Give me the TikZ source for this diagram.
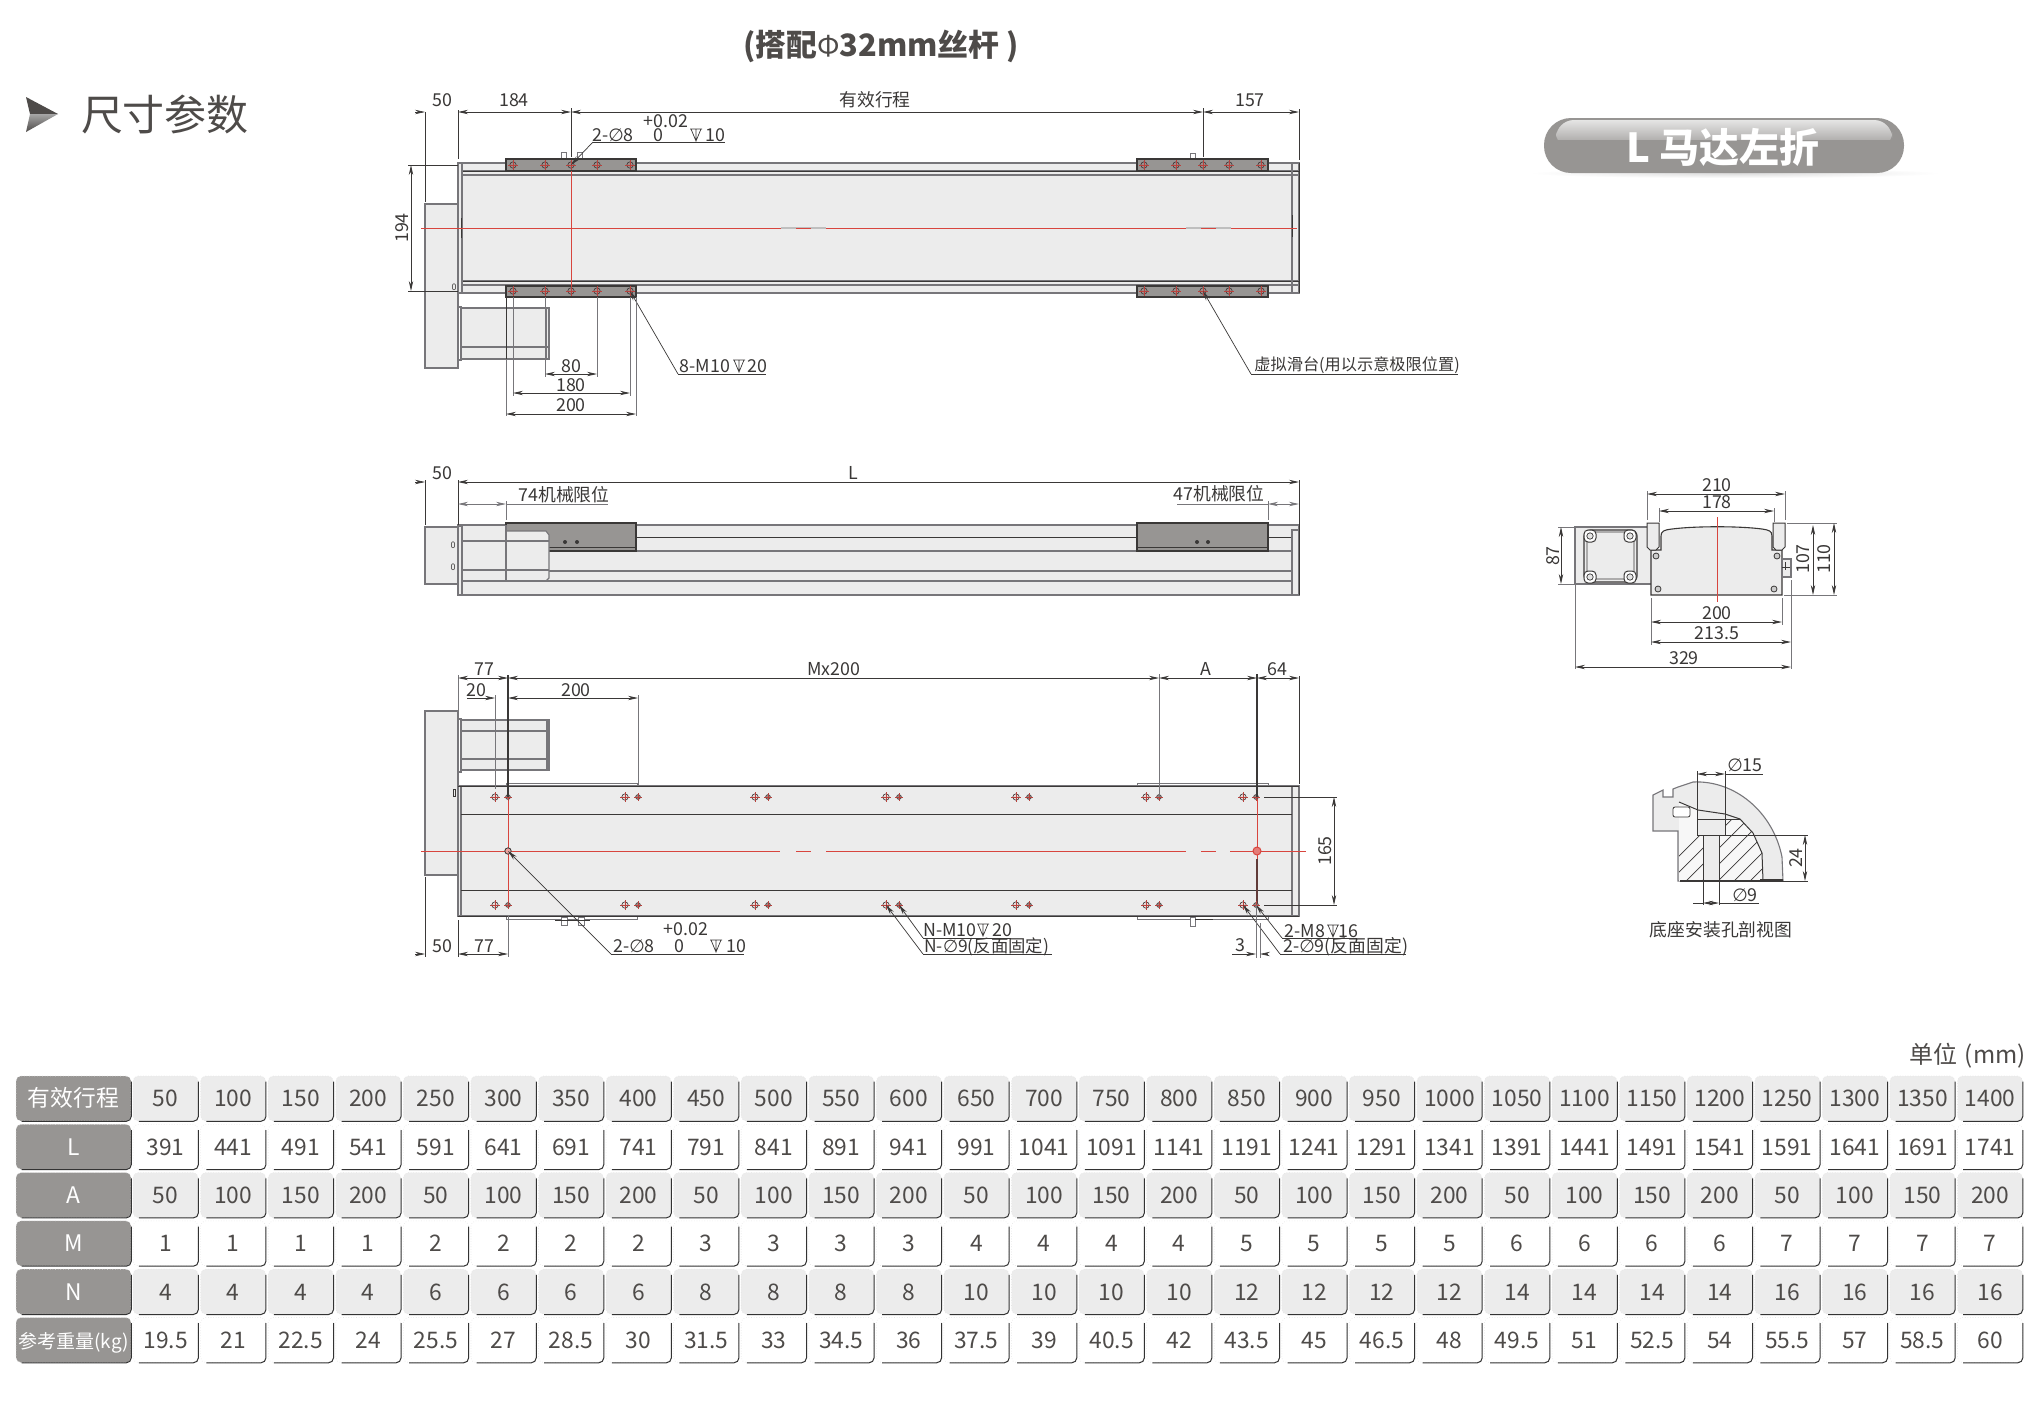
\documentclass[tikz,border=0pt]{standalone}
\usepackage{fontspec}
\usetikzlibrary{arrows.meta,calc}
\setmainfont{Noto Sans CJK SC}
\newfontfamily\dvfont{DejaVu Sans}
\newcommand{\phisym}{{\dvfont ∅}}
\definecolor{ink}{HTML}{3A3837}
\definecolor{txt}{HTML}{4E4B49}
\definecolor{edge}{HTML}{77767A}
\definecolor{rail}{HTML}{ECECEC}
\definecolor{slide}{HTML}{979593}
\definecolor{redl}{HTML}{D8453E}
\tikzset{
 dt/.style={font=\fontsize{8.9pt}{9.5pt}\selectfont,text=ink,inner sep=0pt},
 dtr/.style={dt,rotate=90},
 ext/.style={draw=ink,line width=.35pt},
 extg/.style={draw=edge,line width=.4pt},
 darr/.style={draw=ink,line width=.4pt,{Stealth[length=5pt,width=2.2pt]}-{Stealth[length=5pt,width=2.2pt]}},
 larr/.style={draw=ink,line width=.35pt,{Stealth[length=5pt,width=2.2pt]}-},
 outl/.style={draw=edge,line width=.55pt},
 outd/.style={draw=ink,line width=.5pt},
 railf/.style={fill=rail,draw=edge,line width=.55pt},
 slidef/.style={fill=slide,draw=ink,line width=.6pt},
 redc/.style={draw=redl,line width=.45pt},
 cell/.style={rectangle,rounded corners=2.5pt,minimum width=32.5pt,minimum height=22.5pt,inner sep=0pt,draw=black!10,line width=.3pt,densely dotted,text=txt,text height=8.4pt,text depth=0pt,font=\fontsize{11.4pt}{12pt}\selectfont},
 hcell/.style={cell,fill=slide,text=white,minimum width=57.5pt},
 cedge/.style={draw=black!80,line width=.5pt,rounded corners=2.5pt},
}
% hole marks
\newcommand{\holeB}[2]{\draw[draw=ink,line width=.3pt,fill=redl!12!#1] (#2) circle (1.6pt);\draw[draw=redl!80!ink,line width=.25pt] ($(#2)+(-5,0)$)--($(#2)+(5,0)$) ($(#2)+(0,-5)$)--($(#2)+(0,5)$);}
\newcommand{\holeS}[2]{\draw[draw=ink,line width=.3pt,fill=redl!12!#1] (#2) circle (1.2pt);\draw[draw=redl!80!ink,line width=.25pt] ($(#2)+(-4,0)$)--($(#2)+(4,0)$) ($(#2)+(0,-4)$)--($(#2)+(0,4)$);}
\newcommand{\depsym}[2]{\draw[draw=ink,line width=.35pt] (#1-6,#2-6)--(#1+6,#2-6) (#1-5,#2-6)--(#1,#2+6)--(#1+5,#2-6) (#1,#2-6)--(#1,#2+6);}
\newcommand{\tabrow}[3]{%
 \pgfmathsetmacro\yy{1098.5+48.3*(#1-1)}
 \foreach \v [count=\i from 0] in {#3}{
  \pgfmathsetmacro\xx{165.6+67.57*\i}
  \node[cell,fill=#2] (c#1-\i) at (\xx,\yy) {\v};
  \draw[cedge] ($(c#1-\i.north east)+(0,6)$)--(c#1-\i.south east)--($(c#1-\i.south west)+(6,0)$);
 }}
\newcommand{\tabhead}[3][\fontsize{11.4pt}{12pt}\selectfont]{%
 \pgfmathsetmacro\yy{1098.5+48.3*(#2-1)}
 \node[hcell,font=#1] (h#2) at (73.5,\yy) {#3};
 \draw[cedge] ($(h#2.north east)+(0,6)$)--(h#2.south east)--($(h#2.south west)+(6,0)$);}
\begin{document}
\begin{tikzpicture}[x=.5pt,y=-.5pt]
\useasboundingbox (0,0) rectangle (2042,1409);
\fill[white] (0,0) rectangle (2042,1409);
% ---------- headings
\node[font=\bfseries\fontsize{15.4pt}{17pt}\selectfont,text=txt,inner sep=0pt] (title) at (881,46) {(搭配{\mdseries\fontsize{14pt}{15pt}\selectfont Φ}32mm丝杆 )};
\fill[txt] (26,97)--(58,114)--(30,114)--cycle;
\shade[top color=black!35,bottom color=txt] (30,114)--(58,114)--(26,132)--cycle;
\node[font=\fontsize{21pt}{23pt}\selectfont,text=txt,inner sep=0pt] (sect) at (165,115) {尺寸参数};
% pill
\shade[inner color=black!14,outer color=white] (1530,168) rectangle (1940,178);
\fill[slide,rounded corners=13.5pt] (1544,118) rectangle (1904,173);
\shade[top color=white!75!slide,bottom color=slide,rounded corners=9pt] (1556,120) rectangle (1892,150);
\fill[slide] (1556,140) rectangle (1892,151);
\node[font=\bfseries\fontsize{20pt}{22pt}\selectfont,text=white,inner sep=0pt] (pill) at (1723,147) {L 马达左折};
% ---------- VIEW 1 (top)
\draw[railf] (425,204) rectangle (458,368);
\draw[railf] (458,163) rectangle (1299,293);
\draw[outl] (458,171)--(1299,171) (458,175)--(1299,175) (458,281)--(1299,281) (458,285)--(1299,285);
\draw[outd] (458,171)--(1299,171) (458,281)--(1299,281);
\draw[outl,fill=rail] (458,163) rectangle (462,293);
\draw[outl] (1292,163)--(1292,293);
\draw[outd] (1299,163)--(1299,293) (1292,215)--(1292,237) (461,218)--(461,238);
\draw[outl] (458,307) rectangle (461,360);
\draw[railf] (461,308) rectangle (549,359);
\draw[outl] (461,347)--(549,347) (546,308)--(546,359);
\draw[outd] (506,297)--(506,359);
\node[font=\fontsize{4.5pt}{5pt}\selectfont,text=ink,inner sep=0pt] (z1) at (454,287) {0};
% red line
\draw[draw=black!25,line width=.6pt] (781,228)--(826,228) (1186,228)--(1231,228);
\draw[redc] (421,228)--(781,228) (796,228)--(811,228) (826,228)--(1186,228) (1201,228)--(1216,228) (1231,228)--(1297,228);
\draw[outl,line width=.4pt,fill=white] (561,152) rectangle (566,159) (577,152) rectangle (582,159) (1190,153) rectangle (1195,159);
\draw[outl,line width=.4pt] (1195,158)--(1213,158);
\draw[slidef] (506,159) rectangle (636,171);
\draw[slidef] (506,286) rectangle (636,297);
\draw[slidef] (1137,159) rectangle (1268,171);
\draw[slidef] (1137,286) rectangle (1268,297);
\draw[redc] (571,171)--(571,291);
\foreach \hx in {513,545,571,597,630,1144,1176,1203,1229,1261}{
  \coordinate (t\hx) at (\hx,165); \coordinate (b\hx) at (\hx,291);
  \holeB{slide}{t\hx}\holeB{slide}{b\hx}}
% view1 dims
\draw[ext] (425,112)--(425,202) (458,110)--(458,159) (571,108)--(571,157) (1203,108)--(1203,157) (1299,109)--(1299,160);
\draw[larr] (425,112)--(415,112);
\draw[darr] (458,112)--(571,112);
\draw[darr] (571,112)--(1203,112);
\draw[darr] (1203,112)--(1299,112);
\node[dt] (d50a) at (442,100) {50};
\node[dt] (d184) at (514,100) {184};
\node[dt] (dstr) at (875,100) {有效行程};
\node[dt] (d157) at (1250,100) {157};
\draw[ext] (408,165)--(458,165) (408,291)--(458,291);
\draw[darr] (411,165)--(411,291);
\node[dtr] (d194) at (402,228) {194};
\coordinate (la) at (593,142); \coordinate (lb) at (725,142);
\draw[larr] (t571)--(la); \draw[ext] (la)--(lb);
\node[dt] (ta1) at (613,135) {2-\phisym 8};
\node[dt] (ta2) at (666,121) {+0.02};
\node[dt] (ta3) at (658,135) {0};
\depsym{696}{135}
\node[dt] (ta4) at (715,135) {10};
\coordinate (lc) at (678,374); \coordinate (ld) at (766,374);
\draw[larr] (b630)--(lc); \draw[ext] (lc)--(ld);
\node[dt] (tb1) at (705,366) {8-M10};
\depsym{739}{366}
\node[dt] (tb2) at (757,366) {20};
\draw[extg] (545,297)--(545,377) (597,297)--(597,377) (513,297)--(513,396) (630,297)--(630,396) (506,359)--(506,416) (636,297)--(636,416);
\draw[darr] (545,374)--(597,374);
\draw[darr] (513,393)--(630,393);
\draw[darr] (506,414)--(636,414);
\node[dt] (d80) at (571,366) {80};
\node[dt] (d180) at (571,385) {180};
\node[dt] (d200) at (571,405) {200};
\coordinate (le) at (1251,374); \coordinate (lf) at (1458,374);
\draw[larr] (b1203)--(le); \draw[ext] (le)--(lf);
\node[dt,anchor=west,font=\fontsize{8.1pt}{9pt}\selectfont] (tc) at (1254,365) {虚拟滑台(用以示意极限位置)};
% ---------- VIEW 2 (side)
\draw[railf] (425,527) rectangle (458,584);
\draw[railf] (458,525) rectangle (1299,595);
\draw[outd] (636,537)--(1292,537);
\draw[outl] (462,551)--(1292,551) (462,571)--(1292,571);
\draw[outl] (462,581)--(1292,581);
\draw[slidef] (506,523) rectangle (636,551);
\draw[slidef] (1137,523) rectangle (1268,551);
\draw[outd] (506,547)--(636,547) (1137,547)--(1268,547);
\fill[ink] (565,542) circle (1pt) (577,542) circle (1pt) (1197,542) circle (1pt) (1208,542) circle (1pt);
\draw[railf] (506,531)--(546,531)--(549,535)--(549,578)--(546,581)--(506,581);
\fill[rail] (463,526) rectangle (505.5,580.5);
\draw[outl] (506,525)--(506,581) (462,541)--(549,541) (462,570)--(549,570) (462,581)--(549,581);
\draw[outl,fill=rail] (458,526) rectangle (462,595);
\draw[outl,fill=rail] (1292,530)--(1299,530)--(1299,595)--(1292,595)--cycle;
\draw[outd] (1299,525)--(1299,595);
\node[font=\fontsize{4.5pt}{5pt}\selectfont,text=ink,inner sep=0pt] (z2) at (453,545) {0};
\node[font=\fontsize{4.5pt}{5pt}\selectfont,text=ink,inner sep=0pt] (z3) at (453,567) {0};
\draw[ext] (425,480)--(425,525) (458,480)--(458,525) (1299,480)--(1299,530);
\draw[larr] (425,482)--(415,482);
\draw[darr] (458,482)--(1299,482);
\node[dt] (d50b) at (442,473) {50};
\node[dt] (dL) at (853,473) {L};
\draw[extg] (506,501)--(506,520) (1268,501)--(1268,520);
\draw[darr,draw=edge] (458,504)--(506,504); \draw[extg] (506,504)--(608,504);
\draw[darr,draw=edge] (1268,504)--(1299,504); \draw[extg] (1177,504)--(1268,504);
\node[dt] (d74) at (564,495) {74机械限位};
\node[dt] (d47) at (1219,494) {47机械限位};
% ---------- VIEW 3 (bottom)
\draw[railf] (425,711) rectangle (458,875);
\draw[outl] (458,719) rectangle (461,772);
\draw[railf] (461,720) rectangle (549,770);
\draw[outl] (461,731)--(549,731) (461,759)--(549,759) (547,720)--(547,770);
\draw[outl,line width=.4pt] (506,783) rectangle (637,786) (1137,783) rectangle (1268,786);
\draw[outl,line width=.4pt] (506,916) rectangle (637,919) (1137,916) rectangle (1268,919);
\draw[outl,line width=.4pt,fill=white] (561,917) rectangle (567,925) (578,917) rectangle (584,925) (1190,917) rectangle (1195,926);
\draw[outd] (555,920)--(590,920) (1195,919)--(1213,919);
\draw[railf] (458,786) rectangle (1299,916);
\draw[outl,fill=rail] (458,786) rectangle (461,916);
\draw[outl] (1292,786)--(1292,916);
\draw[outd] (461,814)--(1292,814) (461,890)--(1292,890);
\draw[outd] (458,916)--(1299,916) (458,786)--(1299,786);
\draw[outd,line width=.4pt] (453,789) rectangle (455,796);
\draw[redc] (421,851)--(780,851) (796,851)--(811,851) (826,851)--(1186,851) (1201,851)--(1216,851) (1230,851)--(1306,851);
\draw[redc] (508,797)--(508,905) (1257,797)--(1257,859);
\draw[draw=ink!75!redl,line width=1pt] (1257,859)--(1257,905);
\foreach \px in {495,625,755,886,1016,1146,1243}{
  \pgfmathtruncatemacro\sx{\px+13}
  \coordinate (bt\px) at (\px,797); \coordinate (bb\px) at (\px,905);
  \coordinate (st\sx) at (\sx,797); \coordinate (sb\sx) at (\sx,905);
  \holeB{rail}{bt\px}\holeB{rail}{bb\px}\holeS{slide}{st\sx}\holeS{slide}{sb\sx}}
\coordinate (cc1) at (508,851); \coordinate (cc2) at (1257,851);
\draw[draw=ink,line width=.4pt,fill=redl!50] (cc1) circle (1.6pt);
\draw[draw=redl,line width=.5pt,fill=redl!70] (cc2) circle (2pt);
% dims top
\draw[ext] (425,877)--(425,957) (458,920)--(458,957) (1299,676)--(1299,784);
\draw[extg] (458,675)--(458,710) (495,695)--(495,789) (638,695)--(638,786) (1159,674)--(1159,797) (508,916)--(508,957);
\draw[draw=ink,line width=.6pt] (508,675)--(508,797) (1257,674)--(1257,797);
\draw[darr] (458,678)--(508,678);
\draw[darr] (508,678)--(1159,678);
\draw[darr] (1159,678)--(1257,678);
\draw[darr] (1257,678)--(1299,678);
\node[dt] (d77a) at (484,669) {77};
\node[dt] (dMx) at (834,669) {Mx200};
\node[dt] (dA) at (1206,669) {A};
\node[dt] (d64) at (1277,669) {64};
\draw[larr] (495,698)--(467,698);
\draw[darr] (508,698)--(638,698);
\node[dt] (d20) at (476,690) {20};
\node[dt] (d200b) at (576,690) {200};
% dims bottom
\draw[larr] (425,954)--(415,954);
\draw[darr] (458,954)--(508,954);
\node[dt] (d50c) at (442,946) {50};
\node[dt] (d77b) at (484,946) {77};
\coordinate (ma) at (611,954); \coordinate (mb) at (744,954);
\draw[larr] (cc1)--(ma); \draw[ext] (ma)--(mb);
\node[dt] (ma1) at (634,946) {2-\phisym 8};
\node[dt] (ma2) at (686,929) {+0.02};
\node[dt] (ma3) at (679,946) {0};
\depsym{716}{946}
\node[dt] (ma4) at (736,946) {10};
% N leaders
\coordinate (na) at (923,938); \coordinate (nb) at (1011,938);
\coordinate (nc) at (923,954); \coordinate (nd) at (1052,954);
\draw[larr] (sb899)--(na); \draw[ext] (na)--(nb);
\draw[larr] (bb886)--(nc); \draw[ext] (nc)--(nd);
\node[dt] (n1) at (950,930) {N-M10};
\depsym{983}{930}
\node[dt] (n2) at (1002,930) {20};
\node[dt,anchor=west,font=\fontsize{8.7pt}{9pt}\selectfont] (n3) at (924,947) {N-\phisym 9(反面固定)};
% right side of view3
\coordinate (pa) at (1282,938); \coordinate (pb) at (1357,938);
\coordinate (pc) at (1280,954); \coordinate (pd) at (1406,954);
\draw[larr] (sb1256)--(pa); \draw[ext] (pa)--(pb);
\draw[larr] (bb1243)--(pc); \draw[ext] (pc)--(pd);
\node[dt] (p1) at (1305,931) {2-M8};
\depsym{1333}{931}
\node[dt] (p2) at (1348,931) {16};
\node[dt,anchor=west] (p3) at (1283,947) {2-\phisym 9(反面固定)};
\draw[extg] (1256,905)--(1256,958) (1260,923)--(1260,958);
\draw[larr] (1256,954)--(1232,954);
\draw[larr] (1260,954)--(1268,954);
\node[dt] (d3) at (1240,945) {3};
\draw[ext] (1264,797)--(1337,797) (1264,905)--(1337,905);
\draw[darr] (1334,797)--(1334,905);
\node[dtr] (d165) at (1325,851) {165};
% ---------- END VIEW
\draw[railf] (1575,527) rectangle (1652,584);
\draw[draw=ink,line width=.6pt,fill=rail,rounded corners=3pt] (1584,530) rectangle (1637,582);
\draw[draw=ink,line width=.45pt,fill=rail,rounded corners=1pt] (1587,532) rectangle (1634,579);
\foreach \cx/\cy [count=\k] in {1590/536,1630/536,1590/577,1630/577}{
  \coordinate (mc\k) at (\cx,\cy);
  \draw[draw=ink,line width=.5pt,fill=white,rounded corners=2pt] ($(mc\k)+(-6,-6)$) rectangle ($(mc\k)+(6,6)$);
  \draw[draw=ink,line width=.35pt,fill=black!10] (mc\k) circle (1.6pt);}
\draw[railf,draw=ink] (1651,550)--(1651,595)--(1782,595)--(1782,550)--(1772,550)--(1772,536) .. controls (1772,531) and (1769,530) .. (1762,529) .. controls (1740,526) and (1695,526) .. (1672,529) .. controls (1664,530) and (1661,531) .. (1661,536)--(1661,550)--cycle;
\draw[draw=ink,line width=.5pt,fill=rail] (1647,523)--(1659,523)--(1659,547)--(1656,550)--(1650,550)--(1647,547)--cycle;
\draw[draw=ink,line width=.5pt,fill=rail] (1773,523)--(1785,523)--(1785,547)--(1782,550)--(1776,550)--(1773,547)--cycle;
\draw[outl,fill=rail] (1782,559) rectangle (1791,577);
\draw[outd,line width=.4pt] (1785,562)--(1785,570) (1782,567)--(1790,567);
\foreach \cx/\cy [count=\k] in {1656/556,1777/556,1658/589,1774/589}{
  \coordinate (rh\k) at (\cx,\cy);
  \draw[draw=ink,line width=.4pt,fill=black!20] (rh\k) circle (1.5pt);}
\draw[redc] (1717,517)--(1717,602);
\draw[extg] (1647,491)--(1647,520) (1785,491)--(1785,520) (1659,508)--(1659,522) (1774,508)--(1774,522);
\draw[darr] (1647,494)--(1785,494);
\draw[darr] (1659,511)--(1774,511);
\node[dt] (e210) at (1717,485) {210};
\node[dt] (e178) at (1717,502) {178};
\draw[extg] (1651,598)--(1651,645) (1782,598)--(1782,625) (1791,580)--(1791,669) (1575,584)--(1575,669);
\draw[darr] (1651,622)--(1782,622);
\draw[darr] (1651,642)--(1791,642);
\draw[darr] (1575,667)--(1791,667);
\node[dt] (e200) at (1717,613) {200};
\node[dt] (e213) at (1717,633) {213.5};
\node[dt] (e329) at (1684,658) {329};
\draw[extg] (1558,527)--(1575,527) (1558,584)--(1575,584) (1787,523)--(1837,523) (1784,595)--(1837,595);
\draw[darr] (1561,527)--(1561,584);
\draw[darr] (1813,525)--(1813,595);
\draw[darr] (1834,523)--(1834,595);
\node[dtr] (e87) at (1553,556) {87};
\node[dtr] (e107) at (1803,559) {107};
\node[dtr] (e110) at (1824,559) {110};
% ---------- SECTION
\draw[railf] (1653,795)--(1663,790)--(1663,797)--(1673,797)--(1673,789)--(1678,787)--(1693,782) .. controls (1735,780) and (1773,812) .. (1782,857)--(1783,881)--(1680,881)--(1678,881)--(1678,831)--(1653,831)--cycle;
\begin{scope}
\fill[white!60!rail] (1679,802)--(1697,808)--(1697,835)--(1703,835)--(1703,881)--(1679,881)--cycle (1719,881)--(1719,835)--(1725,835)--(1725,819)--(1740,819)--(1753,833)--(1762,853)--(1763,881)--cycle;
\clip (1679,802)--(1697,808)--(1697,835)--(1703,835)--(1703,881)--(1679,881)--cycle (1719,881)--(1719,835)--(1725,835)--(1725,819)--(1740,819)--(1753,833)--(1762,853)--(1763,881)--cycle;
\foreach \hh in {0,...,13}{ \draw[draw=ink,line width=.35pt] (1650+16*\hh,885)--(1650+16*\hh+90,795); }
\end{scope}
\draw[outd] (1679,802)--(1698,810)--(1725,814)--(1740,819)--(1753,833)--(1762,853)--(1763,881);
\draw[outd] (1697,819)--(1740,819) (1697,808)--(1697,835)--(1703,835)--(1703,881) (1725,814)--(1725,835)--(1719,835)--(1719,881);
\draw[outd] (1697,835)--(1725,835);
\draw[outd] (1725,835)--(1782,835);
\draw[outd,line width=.7pt] (1680,881)--(1783,881) (1760,880)--(1783,880);
\draw[outd,line width=.4pt,fill=white,rounded corners=1pt] (1673,807) rectangle (1690,817);
\draw[ext] (1697,771)--(1697,835) (1725,771)--(1725,814) (1703,881)--(1703,905) (1719,881)--(1719,905) (1783,881)--(1808,881);
\draw[darr] (1697,774)--(1725,774);
\draw[ext] (1725,774)--(1763,774);
\draw[darr] (1703,903)--(1719,903);
\draw[ext] (1693,903)--(1703,903) (1719,903)--(1759,903);
\draw[darr] (1805,835)--(1805,881);
\draw[ext] (1782,835)--(1808,835);
\node[dt] (s15) at (1745,765) {\phisym 15};
\node[dt] (s9) at (1745,895) {\phisym 9};
\node[dtr] (s24) at (1796,858) {24};
\node[dt] (scap) at (1721,930) {底座安装孔剖视图};
% ---------- TABLE
\node[font=\fontsize{12pt}{13pt}\selectfont,text=txt,inner sep=0pt,anchor=east] (unit) at (2026,1056) {单位\hspace{3.5pt}(mm)};
\tabhead{1}{有效行程}
\tabhead{2}{L}
\tabhead{3}{A}
\tabhead{4}{M}
\tabhead{5}{N}
\tabhead[\fontsize{9.5pt}{10pt}\selectfont]{6}{参考重量(kg)}
\tabrow{1}{rail}{50,100,150,200,250,300,350,400,450,500,550,600,650,700,750,800,850,900,950,1000,1050,1100,1150,1200,1250,1300,1350,1400}
\tabrow{2}{white}{391,441,491,541,591,641,691,741,791,841,891,941,991,1041,1091,1141,1191,1241,1291,1341,1391,1441,1491,1541,1591,1641,1691,1741}
\tabrow{3}{rail}{50,100,150,200,50,100,150,200,50,100,150,200,50,100,150,200,50,100,150,200,50,100,150,200,50,100,150,200}
\tabrow{4}{white}{1,1,1,1,2,2,2,2,3,3,3,3,4,4,4,4,5,5,5,5,6,6,6,6,7,7,7,7}
\tabrow{5}{rail}{4,4,4,4,6,6,6,6,8,8,8,8,10,10,10,10,12,12,12,12,14,14,14,14,16,16,16,16}
\tabrow{6}{white}{19.5,21,22.5,24,25.5,27,28.5,30,31.5,33,34.5,36,37.5,39,40.5,42,43.5,45,46.5,48,49.5,51,52.5,54,55.5,57,58.5,60}
\end{tikzpicture}
\end{document}
